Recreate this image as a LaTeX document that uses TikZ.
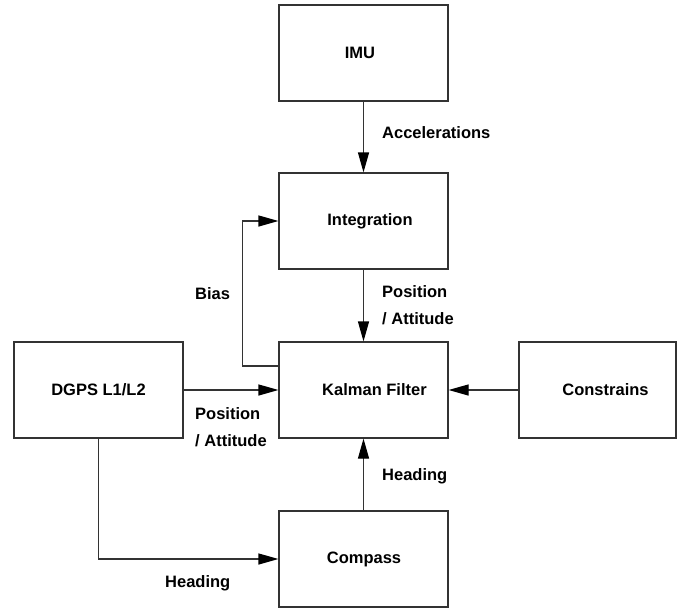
\documentclass[tikz,border=0pt]{standalone}
\usepackage{fontspec}
\setmainfont{Liberation Sans}
\usetikzlibrary{arrows.meta}

\begin{document}
\begin{tikzpicture}[x=1pt,y=-1pt,
  font=\fontsize{16.5}{27}\selectfont\bfseries,
  block/.style={draw=black!80,line width=1.2pt,minimum width=169pt,minimum height=96pt,inner sep=0pt},
  lbl/.style={inner sep=0pt},
  tag/.style={inner sep=0pt,anchor=west,align=left},
  flow/.style={draw=black!80,line width=1.2pt,-{Triangle[length=20pt,width=11pt,color=black]}},
  wire/.style={draw=black!80,line width=1.2pt}]
\useasboundingbox (0,0) rectangle (677,610);

% blocks
\node[block] (imu)   at (363.5,53)  {};
\node[block] (integ) at (363.5,221) {};
\node[block] (kal)   at (363.5,390) {};
\node[block] (comp)  at (363.5,559) {};
\node[block] (dgps)  at (98.5,390)  {};
\node[block,minimum width=157pt] (cons) at (597.5,390) {};

% block titles
\node[lbl] at ([xshift=-3.5pt]imu.center)  {IMU};
\node[lbl] at ([xshift=6.5pt]integ.center) {Integration};
\node[lbl] at ([xshift=11pt]kal.center)    {Kalman Filter};
\node[lbl] at ([xshift=0.5pt]comp.center)  {Compass};
\node[lbl] at (dgps.center)                {DGPS L1/L2};
\node[lbl] at ([xshift=8pt]cons.center)    {Constrains};

% signal flow
\draw[flow] (imu.south) -- (integ.north);
\draw[flow] (integ.south) -- (kal.north);
\draw[flow] ([yshift=24pt]kal.west) -- ++(-36pt,0) |- (integ.west);
\draw[flow] (dgps.east) -- (kal.west);
\draw[flow] (cons.west) -- (kal.east);
\draw[flow] (comp.north) -- (kal.south);
\draw[flow] (dgps.south) |- (comp.west);

% connector labels
\node[tag] (lacc)  at (382,133)   {Accelerations};
\node[tag] (lpos1) at (382,305.5) {Position\\/ Attitude};
\node[tag] (lbias) at (195,294)   {Bias};
\node[tag] (lpos2) at (195,427.5) {Position\\/ Attitude};
\node[tag] (lhd1)  at (382,476)   {Heading};
\node[tag] (lhd2)  at (165,583)   {Heading};
\end{tikzpicture}
\end{document}
